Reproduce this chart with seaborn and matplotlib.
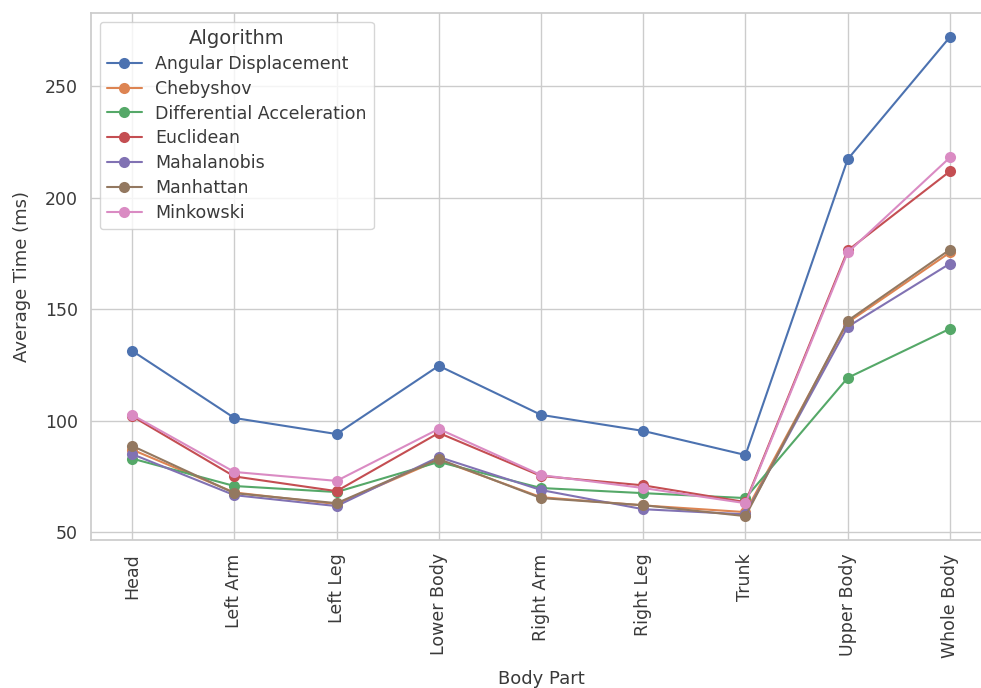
import pandas as pd
import seaborn as sns
import matplotlib.pyplot as plt

body_parts = ["Head", "Left Arm", "Left Leg", "Lower Body", "Right Arm",
              "Right Leg", "Trunk", "Upper Body", "Whole Body"]

angular = [131.3, 101.2, 94.0, 124.6, 102.6, 95.4, 84.6, 217.2, 272.0]
chebyshov = [87.0, 67.8, 62.6, 82.4, 65.7, 62.0, 59.0, 144.0, 175.4]
diff_acc = [83.0, 70.7, 68.0, 81.5, 69.8, 67.5, 65.3, 119.2, 141.2]
euclidean = [102.0, 75.0, 68.4, 94.5, 75.2, 71.0, 63.5, 176.3, 211.8]
mahalanobis = [85.0, 66.6, 61.7, 83.7, 68.9, 60.3, 58.0, 142.1, 170.4]
manhattan = [88.7, 67.5, 63.0, 82.8, 65.3, 62.1, 57.2, 144.8, 176.7]
minkowski = [102.6, 77.0, 73.0, 96.3, 75.6, 69.8, 63.0, 175.4, 218.0]

algorithms = {
    "Angular Displacement": angular,
    "Chebyshov": chebyshov,
    "Differential Acceleration": diff_acc,
    "Euclidean": euclidean,
    "Mahalanobis": mahalanobis,
    "Manhattan": manhattan,
    "Minkowski": minkowski,
}

rows = []
for name, vals in algorithms.items():
    for part, v in zip(body_parts, vals):
        rows.append({"Body Part": part, "Algorithm": name, "Average Time (ms)": v})
df = pd.DataFrame(rows)

sns.set_theme(style="whitegrid", rc={
    "font.size": 13,
    "axes.labelsize": 13,
    "xtick.labelsize": 12.5,
    "ytick.labelsize": 12.5,
    "legend.fontsize": 12.5,
    "legend.title_fontsize": 14,
    "legend.labelspacing": 0.4,
    "text.color": "#3a3a3a",
    "axes.labelcolor": "#3a3a3a",
    "xtick.color": "#3a3a3a",
    "ytick.color": "#3a3a3a",
})

fig, ax = plt.subplots(figsize=(9.81, 6.88), dpi=100)
sns.lineplot(
    data=df,
    x="Body Part",
    y="Average Time (ms)",
    hue="Algorithm",
    marker="o",
    markeredgewidth=0,
    markersize=8,
    ax=ax
)
plt.xticks(rotation=90)
ax.set_xlabel("Body Part", labelpad=9)
ax.set_ylabel("Average Time (ms)", labelpad=10)
for s in ax.spines.values():
    s.set_color("#cccccc")
ax.spines["right"].set_visible(False)
plt.subplots_adjust(left=0.093, right=1.01, top=0.981, bottom=0.215)
plt.savefig("out.png")
